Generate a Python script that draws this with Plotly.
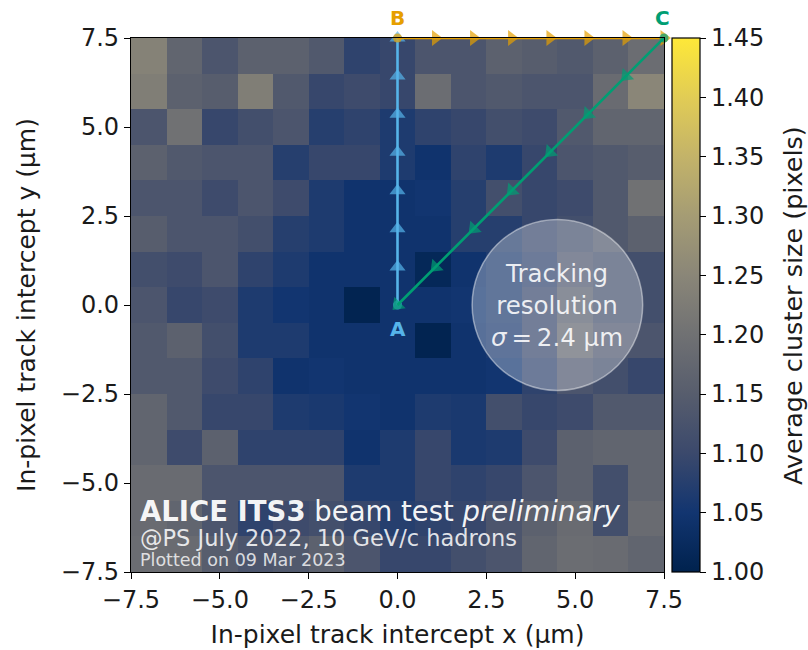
import plotly.graph_objects as go

# ---------------- data ----------------
x_centers = [-7, -6, -5, -4, -3, -2, -1, 0, 1, 2, 3, 4, 5, 6, 7]
y_centers = [7, 6, 5, 4, 3, 2, 1, 0, -1, -2, -3, -4, -5, -6, -7]

# average cluster size, rows from y=7 (top) down to y=-7 (bottom), columns x=-7..7
cluster_size = [
    [1.24, 1.17, 1.13, 1.16, 1.16, 1.14, 1.085, 1.095, 1.13, 1.13, 1.16, 1.15, 1.14, 1.16, 1.19],
    [1.23, 1.16, 1.15, 1.23, 1.14, 1.095, 1.105, 1.095, 1.19, 1.13, 1.14, 1.13, 1.13, 1.185, 1.25],
    [1.13, 1.20, 1.095, 1.115, 1.13, 1.075, 1.085, 1.065, 1.085, 1.095, 1.115, 1.105, 1.14, 1.17, 1.17],
    [1.16, 1.14, 1.13, 1.13, 1.075, 1.095, 1.095, 1.065, 1.045, 1.085, 1.065, 1.095, 1.13, 1.14, 1.15],
    [1.13, 1.13, 1.105, 1.13, 1.105, 1.065, 1.045, 1.045, 1.05, 1.075, 1.115, 1.095, 1.105, 1.14, 1.20],
    [1.15, 1.13, 1.13, 1.115, 1.075, 1.065, 1.045, 1.045, 1.045, 1.075, 1.075, 1.095, 1.115, 1.14, 1.16],
    [1.115, 1.105, 1.13, 1.085, 1.065, 1.045, 1.045, 1.045, 1.015, 1.045, 1.065, 1.085, 1.13, 1.115, 1.115],
    [1.13, 1.095, 1.105, 1.065, 1.05, 1.045, 1.005, 1.045, 1.045, 1.05, 1.065, 1.095, 1.15, 1.115, 1.115],
    [1.14, 1.16, 1.115, 1.065, 1.065, 1.045, 1.045, 1.045, 1.005, 1.045, 1.06, 1.095, 1.17, 1.13, 1.13],
    [1.14, 1.14, 1.105, 1.085, 1.045, 1.05, 1.045, 1.045, 1.045, 1.045, 1.05, 1.085, 1.13, 1.115, 1.095],
    [1.17, 1.14, 1.095, 1.095, 1.065, 1.06, 1.05, 1.045, 1.065, 1.06, 1.115, 1.095, 1.105, 1.14, 1.14],
    [1.17, 1.105, 1.16, 1.085, 1.085, 1.085, 1.045, 1.065, 1.095, 1.06, 1.065, 1.105, 1.16, 1.17, 1.17],
    [1.185, 1.185, 1.13, 1.13, 1.13, 1.13, 1.065, 1.065, 1.095, 1.085, 1.095, 1.13, 1.16, 1.115, 1.17],
    [1.185, 1.17, 1.13, 1.085, 1.105, 1.115, 1.095, 1.075, 1.085, 1.095, 1.13, 1.16, 1.185, 1.115, 1.185],
    [1.19, 1.185, 1.15, 1.13, 1.14, 1.16, 1.13, 1.095, 1.095, 1.115, 1.13, 1.17, 1.19, 1.185, 1.17],
]

# paths between the points A, B, C
path_ab_x = [0.0, 0.0, 0.0, 0.0, 0.0, 0.0, 0.0, 0.0]
path_ab_y = [0.0, 1.07, 2.14, 3.21, 4.29, 5.36, 6.43, 7.5]
path_bc_x = [0.0, 1.07, 2.14, 3.21, 4.29, 5.36, 6.43, 7.5]
path_bc_y = [7.5, 7.5, 7.5, 7.5, 7.5, 7.5, 7.5, 7.5]
path_ca_x = [7.5, 6.43, 5.36, 4.29, 3.21, 2.14, 1.07, 0.0]
path_ca_y = [7.5, 6.43, 5.36, 4.29, 3.21, 2.14, 1.07, 0.0]

point_labels = ["A", "B", "C"]
point_x = [0.0, 0.0, 7.5]
point_y = [0.0, 7.5, 7.5]

sigma = 2.4
circle_center = (4.5, 0.0)

x_ticks = [-7.5, -5.0, -2.5, 0.0, 2.5, 5.0, 7.5]
y_ticks = [-7.5, -5.0, -2.5, 0.0, 2.5, 5.0, 7.5]
cbar_ticks = [1.00, 1.05, 1.10, 1.15, 1.20, 1.25, 1.30, 1.35, 1.40, 1.45]

# ---------------- styles ----------------
FONT = "DejaVu Sans"
BLUE = "#56B4E9"
ORANGE = "#E69F00"
GREEN = "#009E73"
TXT = "#1a1a1a"

fig = go.Figure()

fig.add_trace(go.Heatmap(
    x=x_centers, y=y_centers, z=cluster_size,
    colorscale="cividis", zmin=1.0, zmax=1.45,
    showscale=True,
    colorbar=dict(
        x=1.015, xanchor="left", xref="paper", xpad=0, ypad=0,
        y=0.5, yanchor="middle", len=1.0, lenmode="fraction",
        thickness=28, outlinecolor="black", outlinewidth=1.2,
        ticks="outside", ticklen=6, tickcolor="black", tickwidth=1.2,
        tickvals=cbar_ticks, tickformat=".2f",
        tickfont=dict(family=FONT, size=24, color=TXT),
    ),
    hoverinfo="skip",
))

# colorbar title (as rotated annotation for precise placement)
fig.add_annotation(x=1.242, y=0.5, xref="paper", yref="paper", showarrow=False,
                   text="Average cluster size (pixels)", textangle=-90,
                   xanchor="center", yanchor="middle",
                   font=dict(family=FONT, size=25.5, color=TXT))

def add_path(xs, ys, color, symbol, angle):
    n = len(xs)
    fig.add_trace(go.Scatter(
        x=xs, y=ys, mode="lines+markers",
        line=dict(color=color, width=2.6),
        marker=dict(
            color=color,
            symbol=["circle"] + [symbol] * (n - 1),
            size=[9] + [14] * (n - 1),
            angle=[0] + [angle] * (n - 1),
            line=dict(width=0),
        ),
        showlegend=False, hoverinfo="skip", cliponaxis=False,
    ))

add_path(path_ab_x, path_ab_y, BLUE, "triangle-up", 0)
add_path(path_bc_x, path_bc_y, ORANGE, "triangle-right", 0)
add_path(path_ca_x, path_ca_y, GREEN, "triangle-up", 225)

# tracking resolution circle
cx, cy = circle_center
fig.add_shape(type="circle", xref="x", yref="y",
              x0=cx - sigma, x1=cx + sigma, y0=cy - sigma, y1=cy + sigma,
              fillcolor="rgba(255,255,255,0.30)",
              line=dict(color="rgba(255,255,255,0.45)", width=1.5))
fig.add_annotation(x=cx, y=cy, xref="x", yref="y", showarrow=False,
                   text=f"Tracking<br>resolution<br><i>σ</i>\u2009=\u20092.4 μm",
                   font=dict(family=FONT, size=24.5, color="rgba(255,255,255,0.88)"),
                   align="center")

# point labels
label_colors = [BLUE, ORANGE, GREEN]
label_shift = [-24, 20, 20]
for lab, px, py, col, sh in zip(point_labels, point_x, point_y, label_colors, label_shift):
    fig.add_annotation(x=px, y=py, xref="x", yref="y", showarrow=False,
                       text=f"<b>{lab}</b>", yshift=sh,
                       xshift=(-2 if lab == "C" else 0),
                       font=dict(family=FONT, size=20, color=col))

# ALICE labels
fig.add_annotation(x=-7.3, y=-5.8, xref="x", yref="y", showarrow=False,
                   xanchor="left", yanchor="middle",
                   text="<b>ALICE ITS3</b> beam test <i>preliminary</i>",
                   font=dict(family=FONT, size=27.5, color="rgba(255,255,255,0.95)"))
fig.add_annotation(x=-7.3, y=-6.55, xref="x", yref="y", showarrow=False,
                   xanchor="left", yanchor="middle",
                   text="@PS July 2022, 10 GeV/c hadrons",
                   font=dict(family=FONT, size=22.5, color="rgba(255,255,255,0.85)"))
fig.add_annotation(x=-7.3, y=-7.17, xref="x", yref="y", showarrow=False,
                   xanchor="left", yanchor="middle",
                   text="Plotted on 09 Mar 2023",
                   font=dict(family=FONT, size=17.5, color="rgba(255,255,255,0.80)"))

axis_common = dict(
    showline=True, linecolor="black", linewidth=1.2, mirror=True,
    ticks="outside", ticklen=6, tickwidth=1.2, tickcolor="black",
    showgrid=False, zeroline=False, tickformat=".1f",
    tickfont=dict(family=FONT, size=24, color=TXT),
)

fig.update_layout(
    width=808, height=650,
    margin=dict(l=131, r=144, t=38, b=78, autoexpand=False),
    paper_bgcolor="white", plot_bgcolor="white",
    xaxis=dict(range=[-7.5, 7.5], tickvals=x_ticks,
               title=dict(text="In-pixel track intercept x (μm)", standoff=12,
                          font=dict(family=FONT, size=25, color=TXT)),
               **axis_common),
    yaxis=dict(range=[-7.5, 7.5], tickvals=y_ticks,
               title=dict(text="In-pixel track intercept y (μm)", standoff=18,
                          font=dict(family=FONT, size=25, color=TXT)),
               **axis_common),
    showlegend=False,
)

fig.write_html("out.html")
